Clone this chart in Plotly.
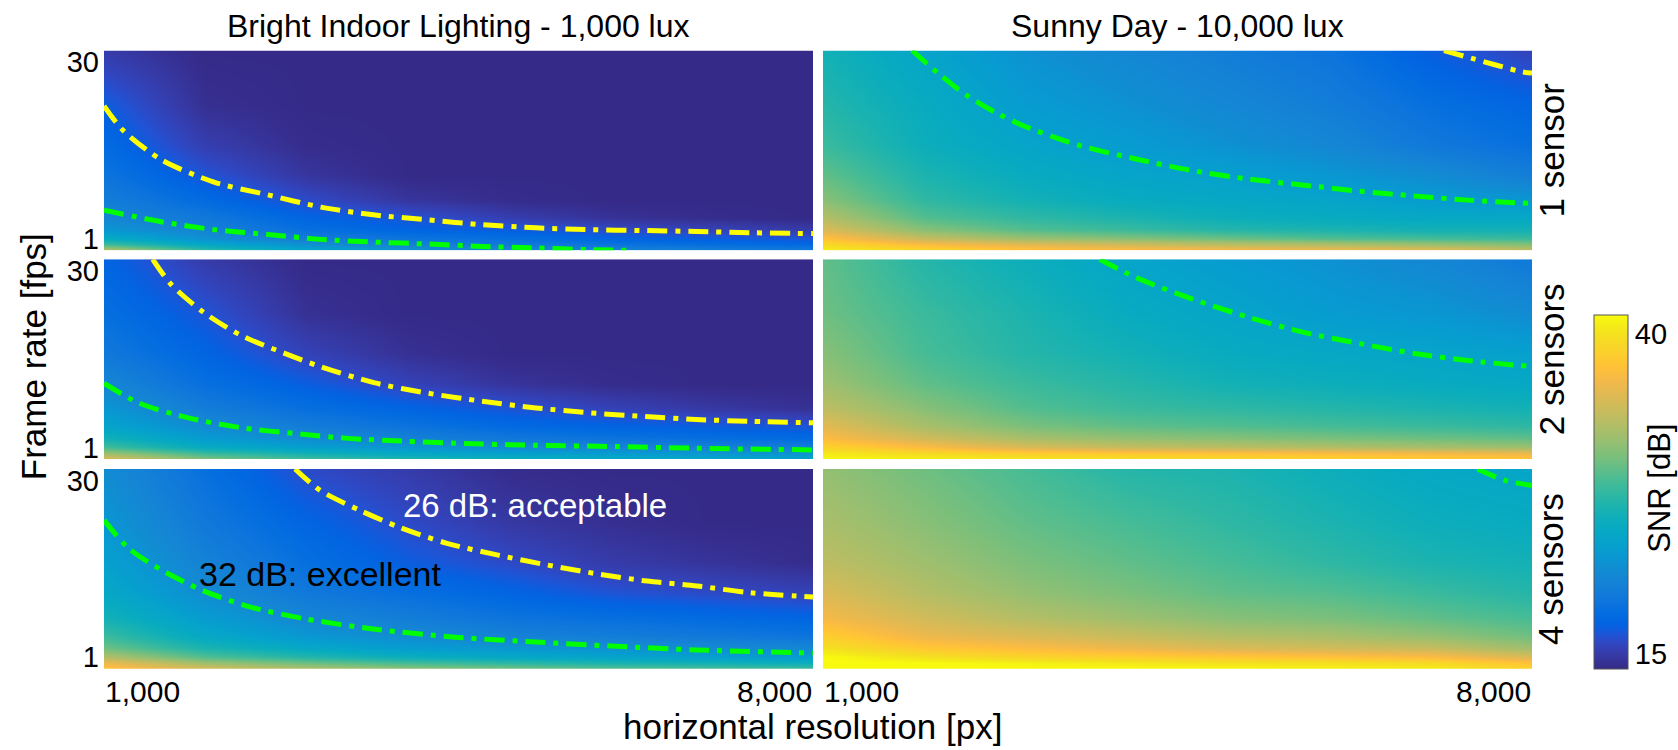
import plotly.graph_objects as go

# ---------------- data ----------------
RESOLUTION = [1000, 2000, 3000, 4000, 5000, 6000, 7000, 8000]
# frame-rate rows of the SNR grids, listed top (high fps) to bottom
FPS_ROWS = [31.9, 23, 16.5, 11.5, 7.5, 4.5, 2.5, 1, 0, -0.9]

# SNR [dB] grids, rows follow FPS_ROWS, columns follow RESOLUTION
SNR_1000LUX_1SENSOR = [
    [15.0, 13.8, 13.8, 13.8, 13.8, 13.8, 13.8, 13.8],
    [17.0, 14.2, 13.8, 13.8, 13.8, 13.8, 13.8, 13.8],
    [18.0, 15.2, 14.0, 13.8, 13.8, 13.8, 13.8, 13.8],
    [19.0, 16.5, 14.6, 13.8, 13.8, 13.8, 13.8, 13.8],
    [20.0, 18.0, 16.0, 14.6, 14.0, 13.8, 13.8, 13.8],
    [21.0, 19.5, 17.5, 16.5, 15.2, 14.4, 14.0, 13.8],
    [22.5, 20.5, 18.5, 17.5, 17.0, 16.0, 15.5, 15.0],
    [25.0, 22.0, 20.0, 19.0, 18.5, 17.5, 17.0, 16.5],
    [28.5, 24.5, 22.0, 20.5, 19.5, 19.0, 18.5, 18.0],
    [34.0, 28.0, 24.5, 22.5, 21.5, 21.0, 20.5, 20.0],
]
SNR_10000LUX_1SENSOR = [
    [26.0, 24.0, 22.0, 21.0, 20.0, 19.0, 17.0, 15.5],
    [27.0, 25.0, 23.0, 22.0, 21.0, 20.0, 18.5, 17.5],
    [28.0, 25.5, 24.0, 23.0, 22.0, 21.0, 19.5, 18.5],
    [29.5, 26.5, 25.0, 24.0, 23.5, 22.5, 21.5, 20.0],
    [31.0, 27.5, 26.0, 25.0, 24.5, 24.0, 23.0, 22.5],
    [33.0, 29.0, 27.5, 26.5, 25.5, 25.0, 24.5, 24.5],
    [35.0, 31.0, 29.0, 28.0, 27.0, 26.5, 26.0, 26.0],
    [37.5, 34.0, 32.0, 31.0, 30.0, 29.0, 28.5, 28.0],
    [39.5, 37.0, 35.5, 34.5, 33.5, 33.0, 32.0, 31.0],
    [41.0, 39.5, 38.0, 37.5, 37.0, 36.5, 36.0, 34.0],
]
SNR_1000LUX_2SENSORS = [
    [17.5, 15.0, 13.8, 13.8, 13.8, 13.8, 13.8, 13.8],
    [18.5, 16.5, 14.3, 13.8, 13.8, 13.8, 13.8, 13.8],
    [19.5, 17.5, 15.5, 14.3, 13.8, 13.8, 13.8, 13.8],
    [21.0, 18.5, 17.0, 15.5, 14.5, 14.0, 13.8, 13.8],
    [22.5, 20.0, 18.5, 17.5, 16.5, 15.5, 14.8, 14.3],
    [24.0, 21.5, 20.0, 19.0, 18.0, 17.5, 17.0, 16.5],
    [26.0, 23.0, 21.5, 20.5, 19.5, 19.0, 18.5, 18.0],
    [28.5, 25.0, 23.5, 22.5, 21.5, 21.0, 20.5, 20.0],
    [32.0, 28.0, 26.0, 24.5, 23.5, 23.0, 22.5, 22.0],
    [35.5, 31.0, 28.5, 27.0, 26.0, 25.0, 24.5, 24.0],
]
SNR_10000LUX_2SENSORS = [
    [29.5, 27.0, 25.5, 24.0, 23.0, 22.0, 21.0, 19.5],
    [30.0, 28.0, 26.5, 25.0, 24.0, 23.0, 22.5, 21.5],
    [31.0, 28.5, 27.0, 26.0, 25.0, 24.5, 24.0, 23.5],
    [32.0, 29.5, 28.0, 27.0, 26.0, 25.5, 25.0, 24.5],
    [33.5, 31.0, 29.0, 28.0, 27.5, 27.0, 26.5, 26.0],
    [35.5, 32.5, 30.5, 29.5, 29.0, 28.5, 28.0, 27.5],
    [37.0, 34.5, 32.5, 31.5, 31.0, 30.5, 30.0, 29.5],
    [39.0, 37.0, 35.0, 34.0, 33.5, 33.0, 32.5, 32.0],
    [40.5, 39.5, 38.5, 38.0, 37.5, 37.0, 36.5, 36.0],
    [41.5, 41.0, 40.5, 40.0, 39.5, 39.0, 38.5, 38.0],
]
SNR_1000LUX_4SENSORS = [
    [21.5, 18.5, 16.0, 15.0, 14.0, 13.8, 13.8, 13.8],
    [22.5, 19.5, 17.5, 16.0, 14.8, 14.2, 13.8, 13.8],
    [23.5, 20.5, 18.5, 17.0, 16.0, 15.0, 14.5, 14.0],
    [24.5, 21.5, 19.5, 18.5, 17.5, 16.5, 16.0, 15.5],
    [26.0, 23.0, 21.0, 20.0, 19.0, 18.5, 18.0, 17.5],
    [28.0, 24.5, 22.5, 21.5, 20.5, 20.0, 19.5, 19.0],
    [30.0, 26.5, 24.5, 23.0, 22.5, 22.0, 21.5, 21.0],
    [33.0, 29.0, 27.0, 25.5, 24.5, 24.0, 23.5, 23.0],
    [36.0, 32.0, 30.0, 28.5, 27.5, 26.5, 26.0, 25.5],
    [38.0, 35.0, 33.0, 31.5, 30.5, 29.5, 29.0, 28.5],
]
SNR_10000LUX_4SENSORS = [
    [31.5, 30.0, 28.5, 27.0, 26.5, 25.5, 24.5, 24.0],
    [32.5, 31.0, 29.5, 28.5, 27.5, 26.5, 25.5, 25.0],
    [33.5, 32.0, 30.5, 29.5, 28.5, 27.5, 26.5, 26.0],
    [35.0, 33.0, 31.5, 30.5, 29.5, 29.0, 28.0, 27.0],
    [36.5, 34.5, 33.0, 32.0, 31.0, 30.5, 29.5, 28.5],
    [38.5, 36.0, 35.0, 34.0, 33.0, 32.5, 31.5, 30.0],
    [40.0, 38.0, 37.0, 36.0, 35.0, 34.5, 34.0, 32.0],
    [41.5, 40.0, 39.0, 38.5, 38.0, 37.5, 37.0, 35.0],
    [41.5, 41.5, 41.0, 40.5, 40.0, 40.0, 39.5, 37.5],
    [41.5, 41.5, 41.5, 41.5, 41.5, 41.0, 41.0, 39.0],
]

# iso-SNR lines (resolution [px], frame rate [fps])
L1000_S1_26DB_RES = [1000, 1188, 1563, 2086, 2619, 3142, 3676, 4204, 4732, 5265, 5788, 6322, 6845, 7378, 8000]
L1000_S1_26DB_FPS = [22.8, 18.8, 14.0, 10.3, 8.2, 6.2, 4.9, 4.1, 3.3, 2.8, 2.5, 2.35, 2.2, 2.0, 1.85]
L1000_S1_32DB_RES = [1000, 1563, 2086, 2619, 3142, 3676, 4204, 4732, 5265, 5788, 6213]
L1000_S1_32DB_FPS = [5.7, 3.8, 2.5, 1.7, 0.9, 0.45, 0.13, -0.25, -0.5, -0.78, -0.9]
L10000_S1_26DB_RES = [7131, 7408, 7901, 8000]
L10000_S1_26DB_FPS = [31.9, 30.6, 28.4, 28.2]
L10000_S1_32DB_RES = [1879, 2155, 2432, 2708, 2984, 3537, 4090, 4643, 5196, 5749, 6302, 6855, 7408, 8000]
L10000_S1_32DB_FPS = [31.9, 27.9, 24.4, 21.7, 19.5, 16.3, 14.1, 12.2, 10.8, 9.8, 8.8, 8.0, 7.3, 6.8]
L1000_S2_26DB_RES = [1481, 1661, 1982, 2353, 2777, 3142, 3676, 4204, 4732, 5265, 5788, 6322, 6845, 7378, 8000]
L1000_S2_26DB_FPS = [31.9, 27.8, 23.2, 19.4, 16.5, 14.25, 11.6, 9.9, 8.6, 7.5, 6.7, 6.1, 5.6, 5.3, 5.05]
L1000_S2_32DB_RES = [1000, 1346, 1824, 2353, 2882, 3409, 3939, 4465, 5265, 6055, 6845, 8000]
L1000_S2_32DB_FPS = [11.55, 8.3, 5.9, 4.25, 3.3, 2.5, 2.05, 1.7, 1.37, 1.16, 0.88, 0.61]
L10000_S2_32DB_RES = [3731, 4090, 4643, 5196, 5749, 6302, 6855, 7408, 8000]
L10000_S2_32DB_FPS = [31.9, 28.9, 25.4, 22.4, 19.9, 18.05, 16.4, 15.2, 14.3]
L1000_S4_26DB_RES = [2886, 3133, 3527, 3922, 4386, 4880, 5374, 5867, 6361, 6855, 7378, 8000]
L1000_S4_26DB_FPS = [31.9, 28.4, 25.1, 22.3, 19.7, 17.8, 16.15, 14.7, 13.5, 12.7, 11.6, 10.9]
L1000_S4_32DB_RES = [1000, 1242, 1560, 1982, 2458, 2987, 3676, 4465, 5261, 6055, 6845, 8000]
L1000_S4_32DB_FPS = [23.5, 18.9, 15.4, 11.9, 9.2, 7.3, 5.6, 4.3, 3.5, 2.8, 2.2, 1.7]
L10000_S4_32DB_RES = [7462, 7738, 8000]
L10000_S4_32DB_FPS = [31.9, 30.0, 29.2]

COLUMN_TITLES = ["Bright Indoor Lighting - 1,000 lux", "Sunny Day - 10,000 lux"]
ROW_TITLES = ["1 sensor", "2 sensors", "4 sensors"]
X_TICKS = [1000, 8000]
X_TICK_TEXT = ["1,000", "8,000"]
Y_TICKS = [1, 30]
Y_TICK_TEXT = ["1", "30"]
CBAR_TICKS = [15, 40]
SNR_MIN, SNR_MAX = 13.8, 41.5
X_RANGE = [1000, 8000]
Y_RANGE = [-0.9, 31.9]

# MATLAB parula colormap (64 entries)
PARULA_RGB = [
    (0.2081, 0.1663, 0.5292), (0.2116, 0.1898, 0.5777), (0.2123, 0.2138, 0.6270), (0.2081, 0.2386, 0.6771),
    (0.1959, 0.2645, 0.7279), (0.1707, 0.2919, 0.7792), (0.1253, 0.3242, 0.8303), (0.0591, 0.3598, 0.8683),
    (0.0117, 0.3875, 0.8820), (0.0060, 0.4086, 0.8828), (0.0165, 0.4266, 0.8786), (0.0329, 0.4430, 0.8720),
    (0.0498, 0.4586, 0.8641), (0.0629, 0.4737, 0.8554), (0.0723, 0.4887, 0.8467), (0.0779, 0.5040, 0.8384),
    (0.0793, 0.5200, 0.8312), (0.0749, 0.5375, 0.8263), (0.0641, 0.5570, 0.8240), (0.0488, 0.5772, 0.8228),
    (0.0343, 0.5966, 0.8199), (0.0265, 0.6137, 0.8135), (0.0239, 0.6287, 0.8038), (0.0231, 0.6418, 0.7913),
    (0.0228, 0.6535, 0.7768), (0.0267, 0.6642, 0.7607), (0.0384, 0.6743, 0.7436), (0.0590, 0.6838, 0.7254),
    (0.0843, 0.6928, 0.7062), (0.1133, 0.7015, 0.6859), (0.1453, 0.7098, 0.6646), (0.1801, 0.7177, 0.6424),
    (0.2178, 0.7250, 0.6193), (0.2586, 0.7317, 0.5954), (0.3022, 0.7376, 0.5712), (0.3482, 0.7424, 0.5473),
    (0.3953, 0.7459, 0.5244), (0.4420, 0.7481, 0.5033), (0.4871, 0.7491, 0.4840), (0.5300, 0.7491, 0.4661),
    (0.5709, 0.7485, 0.4494), (0.6099, 0.7473, 0.4337), (0.6473, 0.7456, 0.4188), (0.6834, 0.7435, 0.4044),
    (0.7184, 0.7411, 0.3905), (0.7525, 0.7384, 0.3768), (0.7858, 0.7356, 0.3633), (0.8185, 0.7327, 0.3498),
    (0.8507, 0.7299, 0.3360), (0.8824, 0.7274, 0.3217), (0.9139, 0.7258, 0.3063), (0.9450, 0.7261, 0.2886),
    (0.9739, 0.7314, 0.2666), (0.9938, 0.7455, 0.2403), (0.9990, 0.7653, 0.2164), (0.9955, 0.7861, 0.1967),
    (0.9880, 0.8066, 0.1794), (0.9789, 0.8271, 0.1633), (0.9697, 0.8481, 0.1475), (0.9626, 0.8705, 0.1309),
    (0.9589, 0.8949, 0.1132), (0.9598, 0.9218, 0.0948), (0.9661, 0.9514, 0.0755), (0.9763, 0.9831, 0.0538),
]
PARULA = [[i / (len(PARULA_RGB) - 1), "rgb(%d,%d,%d)" % tuple(round(255 * c) for c in rgb)]
          for i, rgb in enumerate(PARULA_RGB)]

# ---------------- layout geometry (pixels) ----------------
W, H = 1678, 750
COLS_PX = [(104, 813), (823, 1532)]
ROWS_PX = [(47, 249), (258, 460), (470, 672)]
FONT = "Liberation Sans, Arial, Helvetica, sans-serif"

GRIDS = [SNR_1000LUX_1SENSOR, SNR_10000LUX_1SENSOR,
         SNR_1000LUX_2SENSORS, SNR_10000LUX_2SENSORS,
         SNR_1000LUX_4SENSORS, SNR_10000LUX_4SENSORS]
LINES = [
    [(L1000_S1_26DB_RES, L1000_S1_26DB_FPS, "26"), (L1000_S1_32DB_RES, L1000_S1_32DB_FPS, "32")],
    [(L10000_S1_26DB_RES, L10000_S1_26DB_FPS, "26"), (L10000_S1_32DB_RES, L10000_S1_32DB_FPS, "32")],
    [(L1000_S2_26DB_RES, L1000_S2_26DB_FPS, "26"), (L1000_S2_32DB_RES, L1000_S2_32DB_FPS, "32")],
    [(L10000_S2_32DB_RES, L10000_S2_32DB_FPS, "32")],
    [(L1000_S4_26DB_RES, L1000_S4_26DB_FPS, "26"), (L1000_S4_32DB_RES, L1000_S4_32DB_FPS, "32")],
    [(L10000_S4_32DB_RES, L10000_S4_32DB_FPS, "32")],
]
LINE_COLOR = {"26": "#ffff00", "32": "#00ff00"}
DASH = "20px,8px,5px,8px"

fig = go.Figure()
layout = dict(
    width=W, height=H, margin=dict(l=0, r=0, t=0, b=0),
    paper_bgcolor="white", plot_bgcolor="white", showlegend=False,
    font=dict(family=FONT, color="black"),
    coloraxis=dict(
        colorscale=PARULA, cmin=SNR_MIN, cmax=SNR_MAX,
        colorbar=dict(
            x=1594 / W, xanchor="left", xpad=0,
            y=1 - 672 / H, yanchor="bottom", ypad=0,
            len=354, lenmode="pixels", thickness=34, thicknessmode="pixels",
            outlinewidth=1, outlinecolor="#555555",
            tickvals=CBAR_TICKS, ticks="", tickfont=dict(size=29, family=FONT),
        ),
    ),
)
annotations = []

fps_asc = FPS_ROWS[::-1]
for p in range(6):
    r, c = divmod(p, 2)
    sfx = "" if p == 0 else str(p + 1)
    xa, ya = "x" + sfx, "y" + sfx
    fig.add_trace(go.Heatmap(
        x=RESOLUTION, y=fps_asc, z=GRIDS[p][::-1], coloraxis="coloraxis",
        zsmooth="best", xaxis=xa, yaxis=ya, hoverinfo="skip"))
    for res, fps, lvl in LINES[p]:
        fig.add_trace(go.Scatter(
            x=res, y=fps, mode="lines", xaxis=xa, yaxis=ya, hoverinfo="skip",
            line=dict(color=LINE_COLOR[lvl], width=5, dash=DASH, shape="spline", smoothing=0.8)))
    x0, x1 = COLS_PX[c]
    y0, y1 = ROWS_PX[r]
    layout["xaxis" + sfx] = dict(
        domain=[x0 / W, x1 / W], range=X_RANGE, anchor=ya,
        showgrid=False, zeroline=False, showticklabels=False, ticks="", showline=False)
    layout["yaxis" + sfx] = dict(
        domain=[1 - y1 / H, 1 - y0 / H], range=Y_RANGE, anchor=xa,
        showgrid=False, zeroline=False, ticks="", showline=False,
        tickvals=Y_TICKS, ticktext=Y_TICK_TEXT, showticklabels=(c == 0),
        tickfont=dict(size=29, family=FONT), ticklabelstandoff=4)
    if r == 2:
        for xv, txt, anc in zip(X_TICKS, X_TICK_TEXT, ["left", "right"]):
            annotations.append(dict(
                x=xv, xref=xa, y=1 - 695 / H, yref="paper", text=txt, showarrow=False,
                xanchor=anc, yanchor="middle", borderpad=0, font=dict(size=30)))
    if r == 0:
        annotations.append(dict(
            x=(x0 + x1) / 2 / W, y=1 - 22 / H, xref="paper", yref="paper",
            text=COLUMN_TITLES[c], showarrow=False, xanchor="center", yanchor="middle",
            font=dict(size=32)))
    if c == 1:
        annotations.append(dict(
            x=1551 / W, y=1 - (y0 + y1) / 2 / H, xref="paper", yref="paper",
            text=ROW_TITLES[r], showarrow=False, textangle=-90,
            xanchor="center", yanchor="middle", font=dict(size=35)))

annotations += [
    dict(x=812 / W, y=1 - 730 / H, xref="paper", yref="paper", text="horizontal resolution [px]",
         showarrow=False, xanchor="center", yanchor="middle", font=dict(size=35)),
    dict(x=33 / W, y=1 - 357 / H, xref="paper", yref="paper", text="Frame rate [fps]",
         showarrow=False, textangle=-90, xanchor="center", yanchor="middle", font=dict(size=35)),
    dict(x=1660 / W, y=1 - 490 / H, xref="paper", yref="paper", text="SNR [dB]",
         showarrow=False, textangle=-90, xanchor="center", yanchor="middle", font=dict(size=31)),
    dict(x=3942, y=25.9, xref="x5", yref="y5", text="26 dB: acceptable", showarrow=False,
         xanchor="left", yanchor="middle", borderpad=0, font=dict(size=33, color="white")),
    dict(x=1928, y=14.7, xref="x5", yref="y5", text="32 dB: excellent", showarrow=False,
         xanchor="left", yanchor="middle", borderpad=0, font=dict(size=34, color="black")),
]
layout["annotations"] = annotations
fig.update_layout(**layout)
fig.write_html("out.html")
